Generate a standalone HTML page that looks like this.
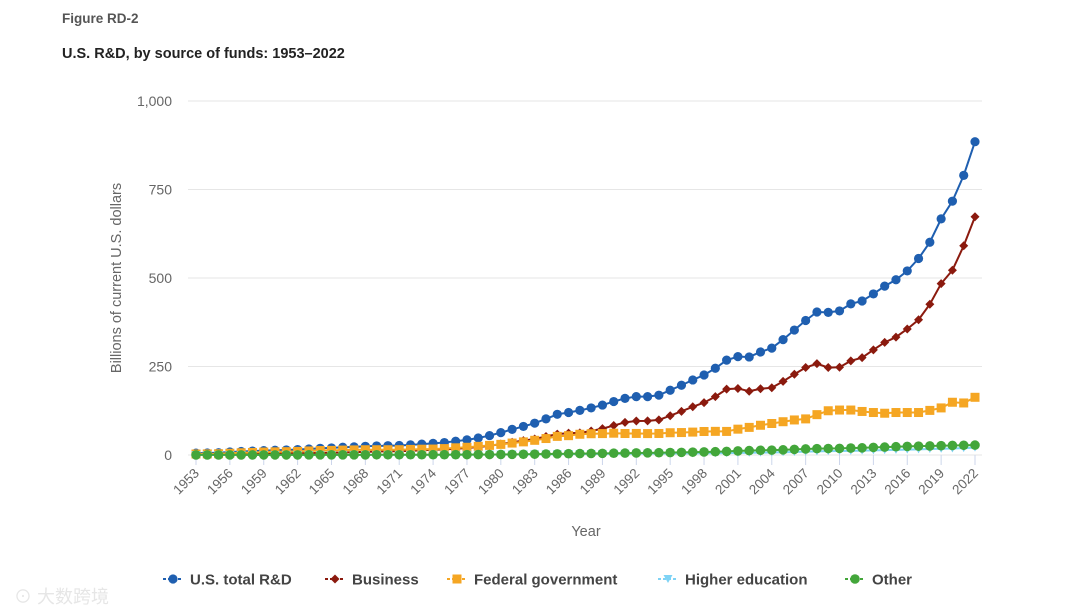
<!DOCTYPE html>
<html><head><meta charset="utf-8"><style>
html,body{margin:0;padding:0;background:#fff;width:1080px;height:614px;overflow:hidden;font-family:"Liberation Sans",sans-serif;}
</style></head><body>
<svg id="chart" width="1080" height="614" xmlns="http://www.w3.org/2000/svg">
<text x="62" y="23" font-size="13.5" font-weight="bold" fill="#555">Figure RD-2</text>
<text x="62" y="58" font-size="14.5" font-weight="bold" fill="#222">U.S. R&amp;D, by source of funds: 1953–2022</text>
<text transform="translate(121,278) rotate(-90)" text-anchor="middle" font-size="14.5" fill="#666">Billions of current U.S. dollars</text>
<text x="586" y="536" text-anchor="middle" font-size="14.5" fill="#666">Year</text>
<g id="grid"></g><g id="xt"></g><g id="series"></g><g id="legend"></g>
<text x="14" y="603" font-size="18" fill="#e6e6e6" font-family="'Liberation Sans','Noto Sans CJK SC',sans-serif">⊙ 大数跨境</text>
</svg>
<script>
const years=[];for(let y=1953;y<=2022;y++)years.push(y);
const yTicks=[0,250,500,750,1000];
const yTickLabels=["0","250","500","750","1,000"];
const total=[5.2,5.7,6.3,8.5,9.9,11,12.4,13.5,14.3,15.4,17.1,18.9,20,21.8,23.1,24.6,25.6,26.3,26.9,28.5,30.7,32.9,35.2,39,42.8,48.1,54.9,63.2,72.3,80.7,89.9,102,115,120,126,133,141,151,160,165,165,169,183,197,212,226,245,268,278,277,291,302,326,353,380,404,403,407,427,435,455,477,495,520,555,601,667,717,790,885];
const business=[2.2,2.4,2.5,3.3,3.4,3.6,3.9,4.5,4.7,5.1,5.4,5.8,6.4,7.2,8.1,9,10,10.4,10.8,11.7,13.3,15,15.8,17.7,19.6,22.5,25.8,30.9,35.9,40.7,45.3,52.2,58.9,61.9,62.6,67.9,74.5,83.2,92.3,96.2,96.5,99.2,110.9,123.4,136.2,148,165,186,188,180,187,190,208,228,247,258,247,248,266,275,297,318,333,356,382,426,484,522,591,673];
const federal=[2.8,3.1,3.5,4.9,6.3,7.2,8.3,8.9,9.4,10.1,11.4,12.6,13,13.9,14.4,14.9,14.9,14.9,15,15.8,16.4,16.8,18.1,20.3,21.8,24.4,27.2,30,33.7,37.1,41.5,46.5,52.6,54.6,58.6,60.1,60.5,61.6,60.7,60.9,60.5,60.8,62.9,63.4,64.7,66.4,66.8,66.6,73,78,84,89,94,99,102,114,125,127,127,123,120,118,120,120,120,126,133,149,147,163];
const higherEd=[0.1,0.1,0.1,0.1,0.1,0.1,0.1,0.1,0.2,0.2,0.2,0.2,0.3,0.3,0.3,0.4,0.4,0.5,0.5,0.5,0.6,0.6,0.7,0.8,0.8,0.9,1,1.2,1.3,1.5,1.7,1.9,2.1,2.3,2.5,2.8,3,3.2,3.5,3.7,3.9,4,4.2,4.4,4.6,4.8,5,5.2,5.8,6.3,6.8,7.2,7.8,8.5,9.5,10.3,10.8,11.2,11.8,12.3,13.1,13.8,14.5,15.2,16,16.8,17.5,18.2,19.5,21];
const other=[0.2,0.2,0.2,0.2,0.2,0.3,0.3,0.3,0.3,0.3,0.4,0.4,0.4,0.5,0.5,0.5,0.6,0.6,0.6,0.7,0.7,0.8,0.8,0.9,1,1.1,1.3,1.5,1.8,2,2.4,2.8,3.2,3.6,4,4.3,4.6,5,5.4,5.8,6.1,6.4,6.9,7.4,8,8.6,9.3,10.2,11.5,12.4,13.3,13.8,14.6,15.8,17,18,18.3,18.7,19.6,20.2,21.5,22.3,23.4,24.3,25,25.6,26.3,27,27.5,28];
const NS="http://www.w3.org/2000/svg";
const X0=196,X1=975,Y0=455,Y1=101;
function xs(y){return X0+(y-1953)*(X1-X0)/(2022-1953);}
function ys(v){return Y0-v*(Y0-Y1)/1000;}
function mk(tag,attrs,parent){const e=document.createElementNS(NS,tag);for(const k in attrs)e.setAttribute(k,attrs[k]);parent.appendChild(e);return e;}
const grid=document.getElementById('grid');
yTicks.forEach((t,i)=>{
  const l=mk('line',{x1:188,x2:982,y1:ys(t),y2:ys(t),stroke:'#e6e6e6','stroke-width':1},grid);
  
  
  const tx=mk('text',{x:172,y:ys(t)+5,'text-anchor':'end','font-size':14,fill:'#666'},grid);
  tx.textContent=yTickLabels[i];
  
  
});
const xt=document.getElementById('xt');
years.forEach(y=>{
  if((y-1953)%3!==0)return;
  const x=xs(y);
  const l=mk('line',{x1:x,x2:x,y1:455,y2:465,stroke:'#ccd6eb','stroke-width':1},xt);
  
  
  const t=mk('text',{transform:`translate(${x+4},${474}) rotate(-45)`,'text-anchor':'end','font-size':13.5,fill:'#666'},xt);
  t.textContent=y;
  
  
});
function marker(shape,x,y,color,g){
  let m;
  if(shape==='circle')m=mk('circle',{cx:x,cy:y,r:4.6,fill:color},g);
  else if(shape==='diamond')m=mk('path',{d:`M${x},${y-4.5}L${x+4.5},${y}L${x},${y+4.5}L${x-4.5},${y}Z`,fill:color},g);
  else if(shape==='square')m=mk('rect',{x:x-4.5,y:y-4.5,width:9,height:9,fill:color},g);
  else if(shape==='tri')m=mk('path',{d:`M${x-4.5},${y-4}L${x+4.5},${y-4}L${x},${y+4}Z`,fill:color},g);
  else m=mk('circle',{cx:x,cy:y,r:4.8,fill:color},g);
  return m;
}
const seriesDefs=[
  {name:'us-total-rd',data:total,color:'#1f5fb0',shape:'circle',label:'U.S. total R&D'},
  {name:'business',data:business,color:'#8b1a0e',shape:'diamond',label:'Business'},
  {name:'federal-government',data:federal,color:'#f5a623',shape:'square',label:'Federal government'},
  {name:'higher-education',data:higherEd,color:'#7fd3f5',shape:'tri',label:'Higher education'},
  {name:'other',data:other,color:'#43a63a',shape:'other',label:'Other'}
];
const sg=document.getElementById('series');
seriesDefs.forEach(s=>{
  const g=mk('g',{},sg);
  
  
  const pts=s.data.map((v,i)=>xs(years[i])+','+ys(v)).join(' ');
  const pl=mk('polyline',{points:pts,fill:'none',stroke:s.color,'stroke-width':2},g);
  
  
  s.data.forEach((v,i)=>{
    const m=marker(s.shape,xs(years[i]),ys(v),s.color,g);
    
    
  });
});
const lg=document.getElementById('legend');
const legendItems=[
  {i:0,x:163},{i:1,x:325},{i:2,x:447},{i:3,x:658},{i:4,x:845}
];
legendItems.forEach(li=>{
  const s=seriesDefs[li.i];
  const g=mk('g',{},lg);
  
  
  mk('line',{x1:li.x,x2:li.x+20,y1:579,y2:579,stroke:s.color,'stroke-width':2,'stroke-dasharray':'3,2'},g);
  marker(s.shape,li.x+10,579,s.color,g);
  const t=mk('text',{x:li.x+27,y:584.5,'font-size':15,'font-weight':'bold',fill:'#444'},g);
  t.textContent=s.label;
});
</script>
</body></html>
